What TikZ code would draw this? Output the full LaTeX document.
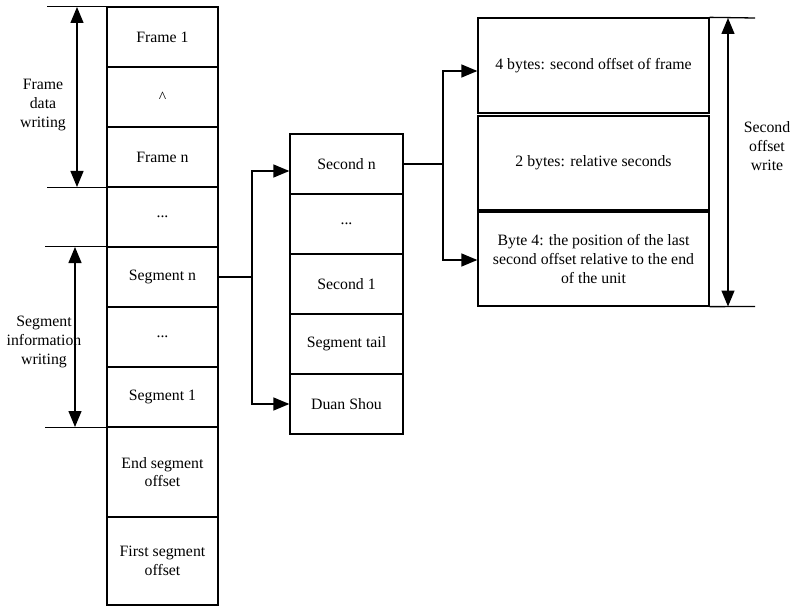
\documentclass[tikz,border=0pt]{standalone}
\usepackage{fontspec}
\setmainfont{Liberation Serif}
\usetikzlibrary{arrows.meta,calc}
\begin{document}
\begin{tikzpicture}[x=1pt,y=-1pt,
  every node/.style={font=\fontsize{15.8}{18.8}\selectfont},
  cell/.style={draw,line width=1.3pt,inner sep=0pt,align=center},
  lcell/.style={cell,minimum width=111pt,minimum height=60pt},
  mcell/.style={cell,minimum width=113pt,minimum height=60pt},
  rcell/.style={cell,minimum width=231pt,minimum height=94pt},
  link/.style={line width=1.3pt,-{Triangle[length=16pt,width=13pt]}},
  span/.style={line width=1.3pt,{Triangle[length=16pt,width=13pt]}-{Triangle[length=16pt,width=13pt]}},
  mark line/.style={line width=1.3pt},
  note/.style={align=center,inner sep=0pt}]
\useasboundingbox (0,0) rectangle (793,607);

% left column: frame and segment storage
\node[lcell] (f1)   at (162.5,37)  {Frame 1};
\node[lcell] (fdot) at (162.5,97)  {\^{}};
\node[lcell] (fn)   at (162.5,157) {Frame n};
\node[lcell] (gap)  at (162.5,217) {...};
\node[lcell] (segn) at (162.5,277) {Segment n};
\node[lcell] (sdot) at (162.5,337) {...};
\node[lcell] (seg1) at (162.5,397) {Segment 1};
\node[lcell,minimum height=90pt] (endoff) at (162.5,472) {End segment\\offset};
\node[lcell,minimum height=88pt] (firstoff) at (162.5,561) {First segment\\offset};

% middle column: contents of one segment
\node[mcell] (secn) at (346.5,164) {Second n};
\node[mcell] (mdot) at (346.5,224) {...};
\node[mcell] (sec1) at (346.5,284) {Second 1};
\node[mcell] (tail) at (346.5,344) {Segment tail};
\node[mcell] (head) at (346.5,404) {Duan Shou};

% right column: contents of one second entry
\node[rcell,minimum height=95pt] (b1) at (593.5,65.5) {4 bytes: second offset of frame};
\node[rcell] (b2) at (593.5,163) {2 bytes: relative seconds};
\node[rcell] (b3) at (593.5,259) {Byte 4: the position of the last\\second offset relative to the end\\of the unit};

% segment n expands into the middle column
\coordinate (j1) at (252,277);
\draw[mark line] (segn.east) -- (j1);
\draw[link] (j1) |- ([yshift=-7pt]secn.west);
\draw[link] (j1) |- (head.west);

% second n expands into the right column
\coordinate (j2) at (443,164);
\draw[mark line] (secn.east) -- (j2);
\draw[link] (j2) |- ([yshift=-5.5pt]b1.west);
\draw[link] (j2) |- ([yshift=-1pt]b3.west);

% extent markers on the left
\draw[mark line] (f1.north west) -- ++(-59,0) coordinate (t1);
\draw[mark line] (fn.south west) -- ++(-59,0) coordinate (t2);
\draw[mark line] (segn.north west) -- ++(-61,0) coordinate (t3);
\draw[mark line] (seg1.south west) -- ++(-61,0) coordinate (t4);
\coordinate (a1) at (77,7);
\coordinate (a2) at (77,187);
\coordinate (a3) at (75,247);
\coordinate (a4) at (75,427);
\draw[span] (a1) -- (a2);
\draw[span] (a3) -- (a4);
\node[note] (lab1) at (43,105) {Frame\\data\\writing};
\node[note] (lab2) at (44,342) {Segment\\information\\writing};

% extent marker on the right
\draw[mark line] (b1.north east) -- (755,18) coordinate (t5);
\draw[mark line] (b3.south east) -- (755,306.5) coordinate (t6);
\coordinate (a5) at (728,18);
\coordinate (a6) at (728,306.5);
\draw[span] (a5) -- (a6);
\node[note] (lab3) at (767,146) {Second\\offset\\write};
\end{tikzpicture}
\end{document}
